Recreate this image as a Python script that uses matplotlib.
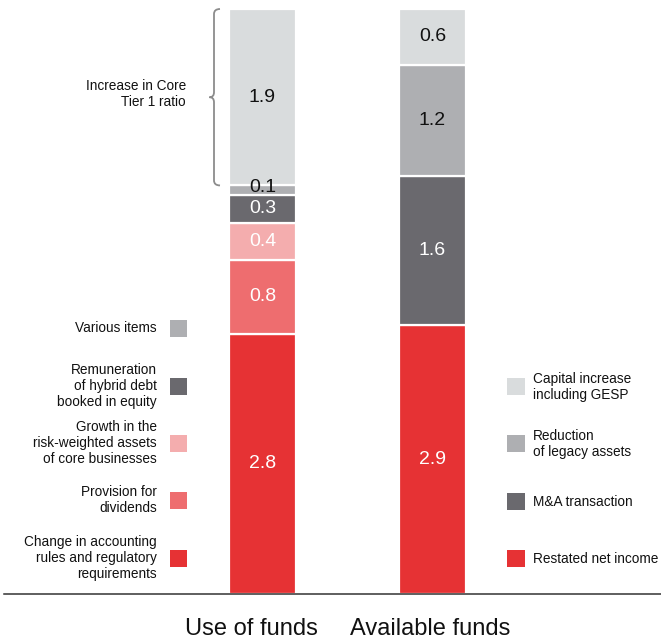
import matplotlib
matplotlib.use("Agg")
import matplotlib.pyplot as plt
from matplotlib.path import Path
from matplotlib.patches import PathPatch, Rectangle
import numpy as np

plt.rcParams['font.family'] = ['Liberation Sans', 'DejaVu Sans']

# ---- data ----
categories = ["Use of funds", "Available funds"]

use_labels = ["Change in accounting\nrules and regulatory\nrequirements",
              "Provision for\ndividends",
              "Growth in the\nrisk-weighted assets\nof core businesses",
              "Remuneration\nof hybrid debt\nbooked in equity",
              "Various items",
              "Increase in Core\nTier 1 ratio"]
use_values = [2.8, 0.8, 0.4, 0.3, 0.1, 1.9]
use_colors = ["#E63234", "#EE6D6F", "#F4ADAE", "#6A696E", "#AEAFB2", "#D9DCDD"]
use_text_colors = ["white", "white", "white", "white", "#111111", "#111111"]

avail_labels = ["Restated net income", "M&A transaction",
                "Reduction\nof legacy assets", "Capital increase\nincluding GESP"]
avail_values = [2.9, 1.6, 1.2, 0.6]
avail_colors = ["#E63234", "#6A696E", "#AEAFB2", "#D9DCDD"]
avail_text_colors = ["white", "white", "#111111", "#111111"]

W, H = 661, 642
fig = plt.figure(figsize=(W / 100, H / 100), dpi=100)
ax = fig.add_axes([0, 0, 1, 1])

# pixel layout: baseline at y=594 (from top), total 6.3 reaches y=9
base_px, top_px = 594, 9
total = sum(use_values)
ppu = (base_px - top_px) / total
ax.set_ylim(-(H - base_px) / ppu, base_px / ppu)
c0, c1 = 262.5, 432.5
dx = c1 - c0
ax.set_xlim(-c0 / dx, (W - c0) / dx)
bar_w = 67 / dx
ax.axis("off")


def fpx(x, y):
    """top-left pixel coords -> figure fraction"""
    return x / W, 1 - y / H


def stack(xpos, values, colors, tcolors, offsets=None):
    bottom = 0
    for i, (v, c, tc) in enumerate(zip(values, colors, tcolors)):
        ax.bar(xpos, v, bottom=bottom, width=bar_w, color=c,
               edgecolor="white", linewidth=1.6, zorder=2)
        off = 0 if offsets is None else offsets[i]
        ax.annotate(f"{v:.1f}", (xpos, bottom + v / 2), xytext=(0, off),
                    textcoords="offset points", ha="center", va="center",
                    fontsize=14, color=tc, zorder=3)
        bottom += v


stack(0, use_values, use_colors, use_text_colors, offsets=[0, 0, 0, 0, 2, 0])
stack(1, avail_values, avail_colors, avail_text_colors)

# baseline
ax.axhline(0, xmin=4 / W, xmax=1, color="#333333", linewidth=1.1, zorder=4)

# category labels
for lab, xc in zip(categories, [251.5, 430.5]):
    fig.text(*fpx(xc, 629), lab, ha="center", va="center", fontsize=17,
             color="#111111")

# left legend (use of funds items, excluding the bracketed top item)
left_centres = [558, 500, 443, 386, 328]
for lab, col, yc in zip(use_labels[:5], use_colors[:5], left_centres):
    x0, y0 = fpx(170, yc + 8.5)
    fig.patches.append(Rectangle((x0, y0), 17 / W, 17 / H, transform=fig.transFigure,
                                 facecolor=col, edgecolor="none"))
    fig.text(*fpx(157, yc), lab, ha="right", va="center", fontsize=9.8,
             color="#111111", linespacing=1.18)

# right legend
right_centres = [558, 501, 443, 386]
for lab, col, yc in zip(avail_labels, avail_colors, right_centres):
    x0, y0 = fpx(507, yc + 8.5)
    fig.patches.append(Rectangle((x0, y0), 18 / W, 17 / H, transform=fig.transFigure,
                                 facecolor=col, edgecolor="none"))
    fig.text(*fpx(533, yc + 1), lab, ha="left", va="center", fontsize=9.8,
             color="#111111", linespacing=1.18)

# brace for the top segment
y_top = top_px
y_bot = base_px - sum(use_values[:5]) * ppu
ym = (y_top + y_bot) / 2
xv, xh, xt = 214, 220, 209.5
r = 5
verts_px = [(xh, y_top), (xv, y_top), (xv, y_top + r),
            (xv, ym - r), (xv, ym), (xt, ym),
            (xv, ym), (xv, ym + r),
            (xv, y_bot - r), (xv, y_bot), (xh, y_bot)]
codes = [Path.MOVETO, Path.CURVE3, Path.CURVE3,
         Path.LINETO, Path.CURVE3, Path.CURVE3,
         Path.CURVE3, Path.CURVE3,
         Path.LINETO, Path.CURVE3, Path.CURVE3]
verts = [fpx(x, y) for x, y in verts_px]
fig.patches.append(PathPatch(Path(verts, codes), transform=fig.transFigure,
                             facecolor="none", edgecolor="#8C8C8C", linewidth=1.3))
fig.text(*fpx(186, ym - 3), use_labels[5], ha="right", va="center", fontsize=9.8,
         color="#111111", linespacing=1.18)

fig.savefig("out.png", dpi=100)
